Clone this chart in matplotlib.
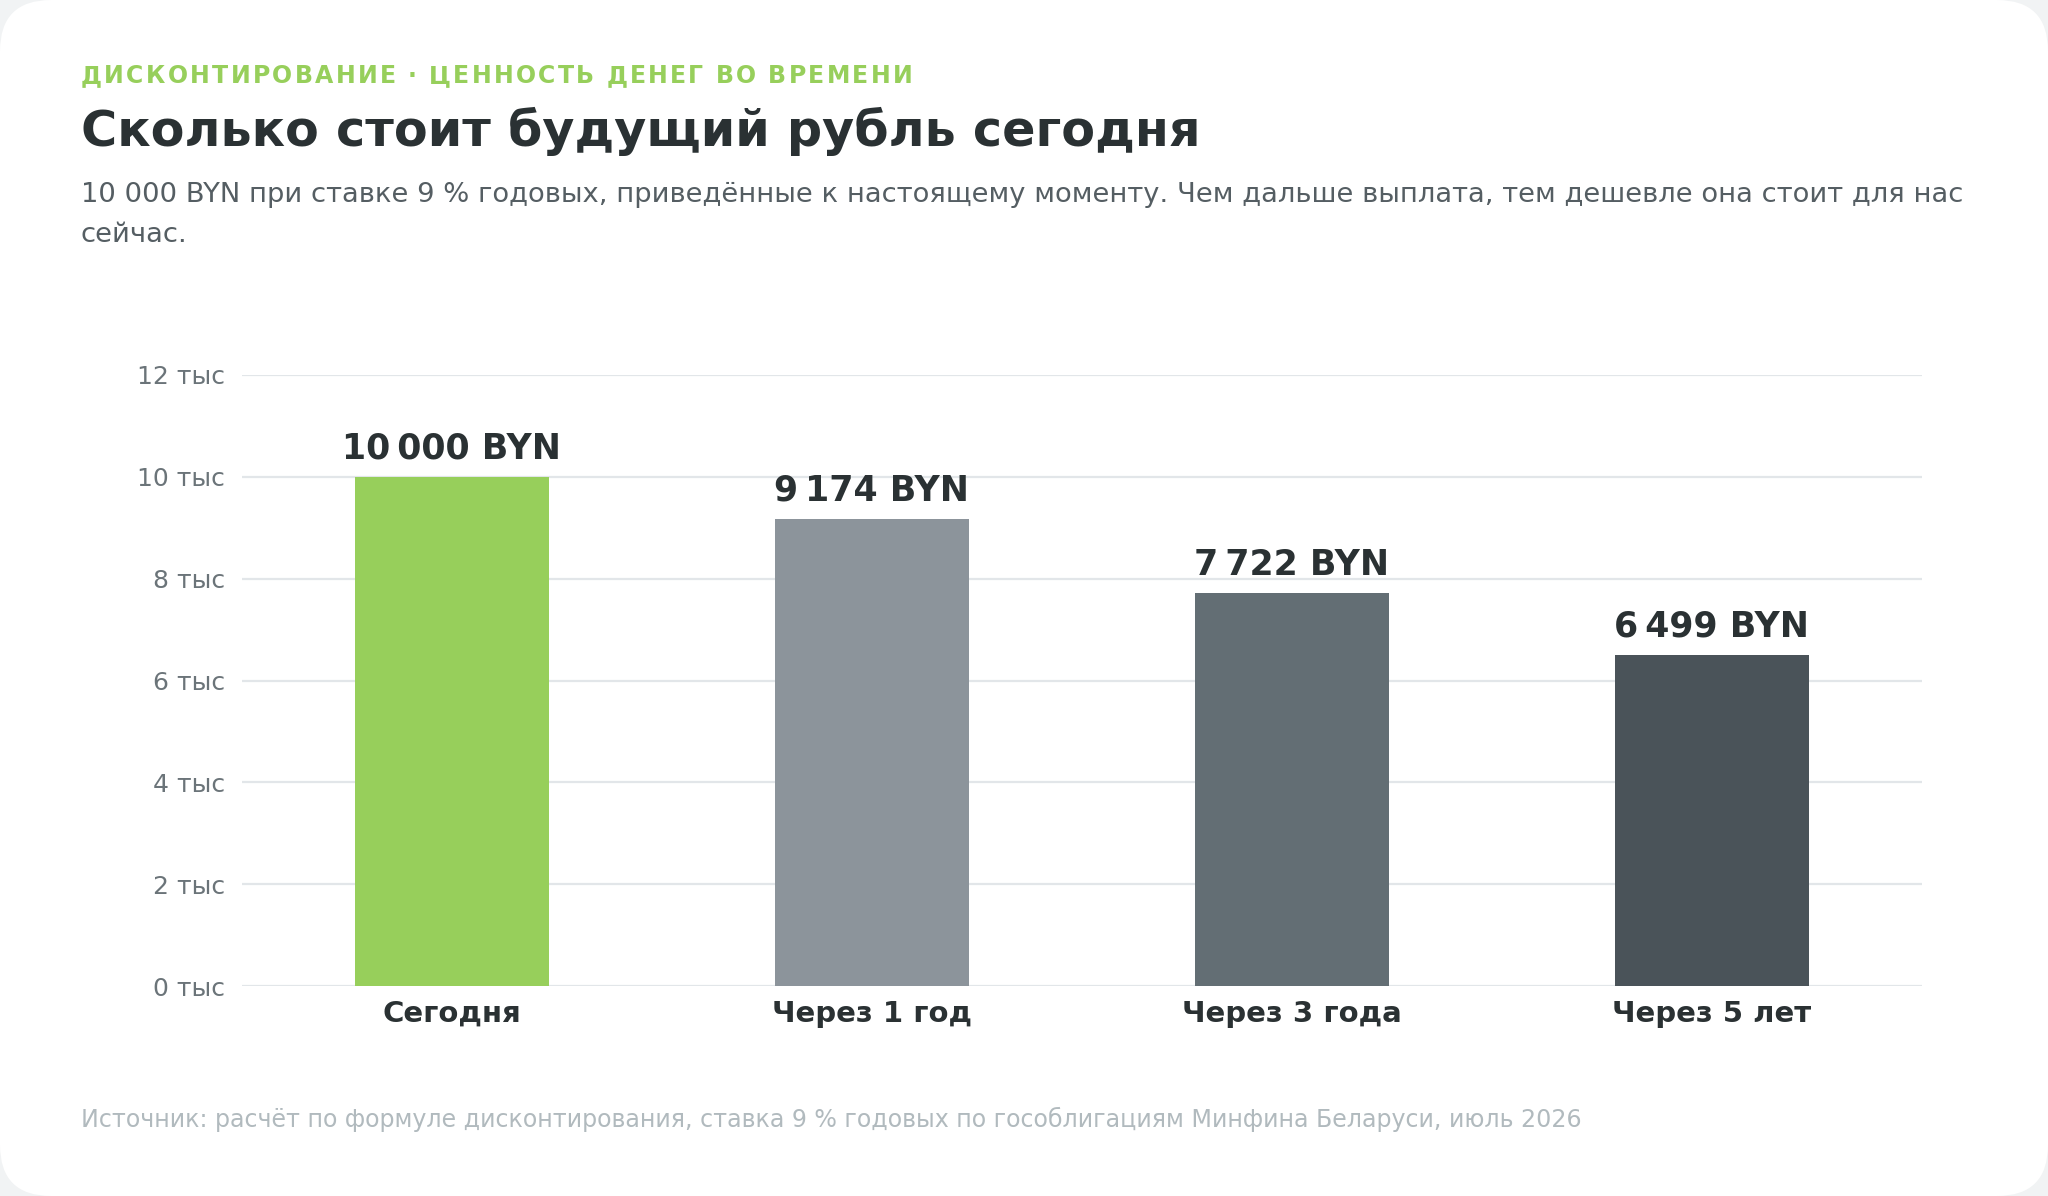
import matplotlib
matplotlib.use('Agg')
import matplotlib.pyplot as plt
from matplotlib.patches import FancyBboxPatch
from matplotlib.ticker import FuncFormatter

plt.rcParams['font.family'] = ['DejaVu Sans']

# данные
categories = ['Сегодня', 'Через 1 год', 'Через 3 года', 'Через 5 лет']
values = [10000, 9174, 7722, 6499]
bar_colors = ['#97cf5b', '#8c949b', '#636e74', '#4a5359']
y_ticks = [0, 2000, 4000, 6000, 8000, 10000, 12000]

overline = 'ДИСКОНТИРОВАНИЕ · ЦЕННОСТЬ ДЕНЕГ ВО ВРЕМЕНИ'
title = 'Сколько стоит будущий рубль сегодня'
subtitle_1 = ('10 000 BYN при ставке 9 % годовых, приведённые к настоящему моменту. '
              'Чем дальше выплата, тем дешевле она стоит для нас')
subtitle_2 = 'сейчас.'
source = ('Источник: расчёт по формуле дисконтирования, ставка 9 % годовых '
          'по гособлигациям Минфина Беларуси, июль 2026')

W, H = 2048, 1196
fig = plt.figure(figsize=(W / 100, H / 100), dpi=100)
fig.patch.set_facecolor('#f1f3f4')

# белая карточка со скруглёнными углами
card = FancyBboxPatch((0, 0), 1, 1, boxstyle='round,pad=0,rounding_size=0.025',
                      transform=fig.transFigure, facecolor='white',
                      edgecolor='none', mutation_aspect=W / H, zorder=-10)
fig.patches.append(card)

ax = fig.add_axes([242 / W, 1 - 986 / H, (1922 - 242) / W, (986 - 375) / H])
ax.set_facecolor('none')
ax.set_zorder(5)

x = range(len(categories))
ax.bar(x, values, width=0.46, color=bar_colors, zorder=3)

for xi, v in zip(x, values):
    label = f'{v:,}'.replace(',', '\u202f') + ' BYN'
    ax.annotate(label, (xi, v), xytext=(0, 8), textcoords='offset points',
                ha='center', va='bottom', fontsize=25, fontweight='bold',
                color='#2a3133')

ax.set_xlim(-0.5, 3.5)
ax.set_ylim(0, 12000)
ax.set_yticks(y_ticks)
ax.yaxis.set_major_formatter(FuncFormatter(lambda v, p: f'{v / 1000:.0f} тыс'))
ax.set_xticks(list(x))
ax.set_xticklabels(categories, fontsize=21, fontweight='bold', color='#2a3133')
ax.tick_params(axis='y', length=0, pad=12, labelsize=18, labelcolor='#6b7479')
ax.tick_params(axis='x', length=0, pad=10)
ax.grid(axis='y', color='#e2e6e9', linewidth=1.6, zorder=0)
ax.set_axisbelow(True)
for s in ax.spines.values():
    s.set_visible(False)

# заголовки: надзаголовок с разрядкой букв
renderer = fig.canvas.get_renderer()
xpos = 81 / W
for ch in overline:
    t = fig.text(xpos, 1 - 76 / H, ch, fontsize=17, fontweight='bold',
                 color='#97cf5b', va='center', ha='left')
    w = t.get_window_extent(renderer).width
    if ch == ' ':
        w = 17 * 100 / 72 * 0.32
    xpos += (w + 2.3) / W

fig.text(81 / W, 1 - 131 / H, title, fontsize=35.5, fontweight='bold',
         color='#2a3133', va='center', ha='left')
fig.text(81 / W, 1 - 195 / H, subtitle_1, fontsize=19.7, color='#555e63',
         va='center', ha='left')
fig.text(81 / W, 1 - 235 / H, subtitle_2, fontsize=19.7, color='#555e63',
         va='center', ha='left')
fig.text(81 / W, 1 - 1119 / H, source, fontsize=17.1, color='#b1babe',
         va='center', ha='left')

fig.savefig('out.png', dpi=100, facecolor=fig.get_facecolor())
